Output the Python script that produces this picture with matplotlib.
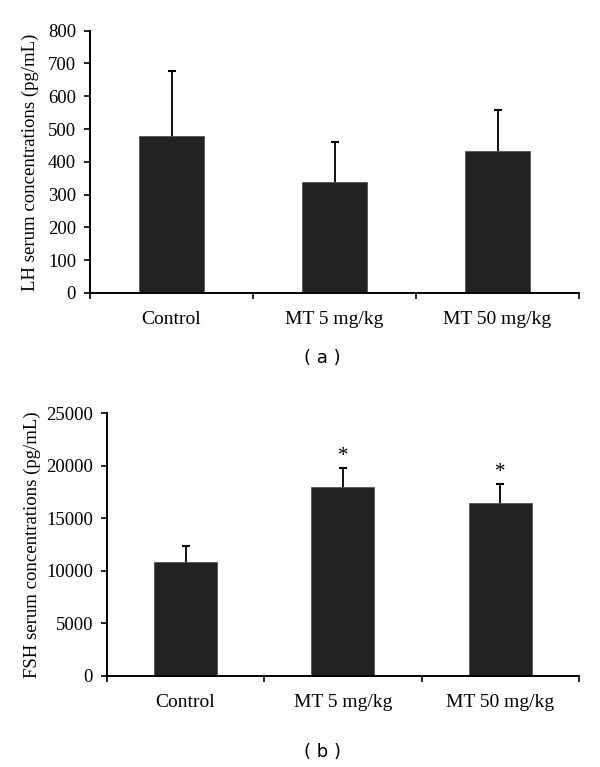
import matplotlib.pyplot as plt
import numpy as np

plt.rcParams['font.family'] = ['Liberation Serif', 'DejaVu Serif']

groups = ['Control', 'MT 5 mg/kg', 'MT 50 mg/kg']
lh_mean = [479, 340, 434]
lh_err = [198, 122, 123]
fsh_mean = [10860, 18000, 16420]
fsh_err = [1520, 1750, 1810]
fsh_marks = ['', '*', '*']

bar_color = '#222222'
fig = plt.figure(figsize=(6, 7.67), dpi=100)


def draw(ax, means, errs, ymax, ystep, ylabel, label_x):
    x = np.arange(len(groups))
    # symmetric error bars behind the bars, so only the upper half shows
    ax.errorbar(x, means, yerr=errs, fmt='none',
                ecolor='black', elinewidth=1.3, capsize=3, capthick=1.5, zorder=1)
    ax.bar(x, means, width=0.4, color=bar_color, edgecolor='#555555', linewidth=0.6, zorder=2)
    ax.set_xlim(-0.5, len(groups) - 0.5)
    ax.set_ylim(0, ymax)
    ax.set_yticks(np.arange(0, ymax + 1, ystep))
    # category boundaries carry the tick marks, names sit in between
    ax.set_xticks(np.arange(-0.5, len(groups), 1.0))
    ax.set_xticklabels([])
    ax.set_xticks(x, minor=True)
    ax.set_xticklabels(groups, minor=True, fontsize=14)
    ax.tick_params(axis='x', which='minor', length=0, pad=13)
    ax.tick_params(axis='x', which='major', direction='out', length=4, width=1.2)
    ax.tick_params(axis='y', direction='out', length=4, width=1.2, labelsize=13.5, pad=6)
    for s in ['top', 'right']:
        ax.spines[s].set_visible(False)
    for s in ['left', 'bottom']:
        ax.spines[s].set_linewidth(1.4)
    ax.set_ylabel(ylabel, fontsize=13.5)
    ax.yaxis.set_label_coords(label_x, 0.5)
    return x


ax1 = fig.add_axes([0.15, 0.618, 0.815, 0.342])
draw(ax1, lh_mean, lh_err, 800, 100, 'LH serum concentrations (pg/mL)', -0.105)

ax2 = fig.add_axes([0.178, 0.119, 0.787, 0.342])
xs = draw(ax2, fsh_mean, fsh_err, 25000, 5000, 'FSH serum concentrations (pg/mL)', -0.14)
for xi, m, e, t in zip(xs, fsh_mean, fsh_err, fsh_marks):
    if t:
        ax2.text(xi, m + e + 250, t, ha='center', va='bottom', fontsize=15)

fig.text(0.538, 1 - 358 / 767, '( a )', ha='center', va='center',
         fontsize=13, family='DejaVu Sans')
fig.text(0.538, 1 - 752 / 767, '( b )', ha='center', va='center',
         fontsize=13, family='DejaVu Sans')

fig.savefig('out.png', dpi=100)
